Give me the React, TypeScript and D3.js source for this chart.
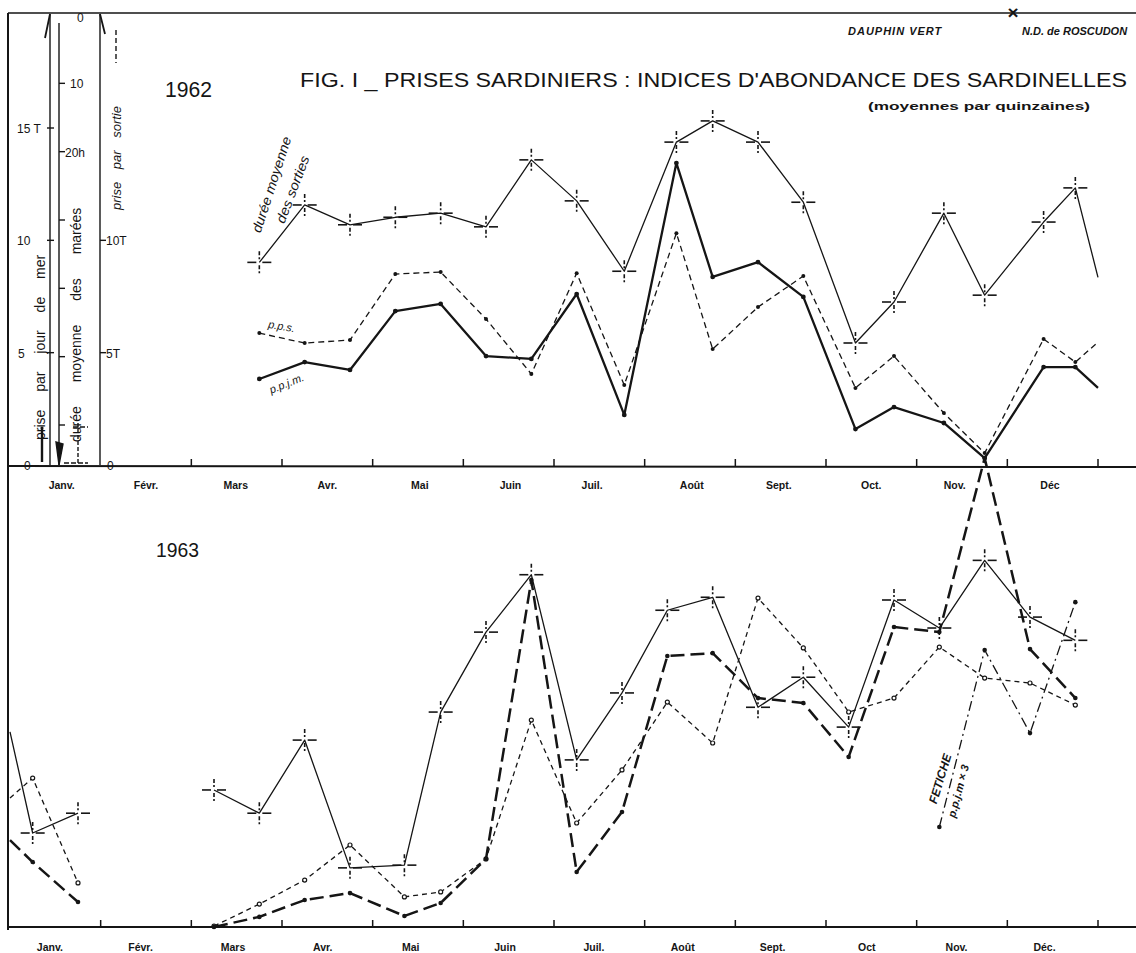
import React from "react";
import * as d3 from "d3";

// ---------- DATA ----------
const monthNames62 = ["Janv.", "Févr.", "Mars", "Avr.", "Mai", "Juin", "Juil.", "Août", "Sept.", "Oct.", "Nov.", "Déc"];
const monthNames63 = ["Janv.", "Févr.", "Mars", "Avr.", "Mai", "Juin", "Juil.", "Août", "Sept.", "Oct", "Nov.", "Déc."];
// label centre positions in months from 1 January (hand lettered)
const labelMonth62 = [0.57, 1.5, 2.49, 3.5, 4.52, 5.52, 6.42, 7.52, 8.48, 9.5, 10.42, 11.47];
const labelMonth63 = [0.44, 1.44, 2.46, 3.45, 4.42, 5.46, 6.44, 7.42, 8.41, 9.45, 10.44, 11.41];

// 1962 — x = index of the fortnight (0 = 1st half of January)
const q62 = [5, 6, 7, 8, 9, 10, 11, 12, 13.05, 14.2, 15, 16, 17, 18.15, 19, 20.1, 21, 22.3, 23, 23.5];
const duree62 = [36.2, 27.8, 30.7, 29.6, 29.0, 31.0, 21.2, 27.2, 37.5, 18.6, 15.5, 18.6, 27.4, 48.0, 42.0, 29.0, 41.0, 30.3, 25.3, 38.4];
const ppjm62 = [3.83, 4.58, 4.23, 6.85, 7.17, 4.85, 4.72, 7.61, 2.23, 13.44, 8.37, 9.03, 7.48, 1.6, 2.58, 1.87, 0.31, 4.36, 4.36, 3.43];
const pps62 = [5.87, 5.43, 5.56, 8.5, 8.59, 6.5, 4.05, 8.54, 3.56, 10.32, 5.16, 7.03, 8.41, 3.43, 4.85, 2.31, 0.53, 5.61, 4.58, 5.47];

// 1963 — January segment
const q63jan = [-0.5, 0, 1];
const duree63jan = [37.3, 52.1, 49.2];
const ppjm63jan = [3.87, 2.89, 1.11];
const pps63jan = [5.74, 6.63, 1.96];

// 1963 — March to December
const q63 = [4, 5, 6, 7, 8.2, 9, 10, 11, 12, 13, 14, 15, 16, 17, 18, 19, 20, 21, 22, 23];
const duree63 = [45.8, 49.2, 38.5, 57.2, 56.8, 34.4, 22.7, 14.3, 41.4, 31.6, 19.5, 17.6, 33.7, 29.3, 36.6, 18.0, 22.1, 12.2, 20.5, 23.9];
const ppjm63 = [0, 0.45, 1.2, 1.51, 0.49, 1.07, 3.03, 15.44, 2.45, 5.12, 12.06, 12.19, 10.19, 9.97, 7.57, 13.35, 13.13, 20.87, 12.37, 10.19];
const pps63 = [0.04, 1.02, 2.09, 3.65, 1.34, 1.56, 3.03, 9.21, 4.63, 6.99, 10.01, 8.19, 14.64, 12.42, 9.57, 10.19, 12.46, 11.08, 10.86, 9.88];

// 1963 — "FETICHE" p.p.j.m × 3
const qFetiche = [20, 21, 22, 23];
const fetiche63 = [4.45, 12.33, 8.63, 14.46];

// left axes
const ppjmTicks = [5, 10, 15];
const ppjmTickLabels = ["5", "10", "15 T"];
const dureeTicks = [10, 20, 30, 40, 50, 60];
const dureeTickLabels = ["10", "20h"];
const ppsTicks = [5, 10];
const ppsTickLabels = ["5T", "10T"];

// ---------- DRAWING ----------
const W = 1136;
const H = 953;
const ink = "#151515";
const F = "'Liberation Sans', Arial, 'DejaVu Sans', sans-serif";

const xM = d3.scaleLinear().domain([0, 12]).range([10, 1098]);
const xQ = (k: number) => xM((k + 0.5) / 2);
const yP62 = d3.scaleLinear().domain([0, 15]).range([465, 128]);
const yD62 = d3.scaleLinear().domain([0, 60]).range([15, 425]);
const yP63 = d3.scaleLinear().domain([0, 15]).range([927, 590]);
const yD63 = d3.scaleLinear().domain([0, 60]).range([477, 887]);

function path(qs: number[], vs: number[], y: (v: number) => number) {
  const pts: [number, number][] = qs.map((q, i) => [xQ(q), y(vs[i])]);
  return d3.line()(pts) || "";
}

function Cross({ x, y }: { x: number; y: number }) {
  return (
    <g transform={`translate(${x},${y})`} stroke={ink} strokeWidth={1.6} fill="none">
      <line x1={-12} y1={0} x2={-3} y2={0} />
      <line x1={3} y1={0} x2={12} y2={0} />
      <line x1={0} y1={-11} x2={0} y2={-3} strokeDasharray="4,2" />
      <line x1={0} y1={3} x2={0} y2={11} strokeDasharray="4,2" />
    </g>
  );
}

type SerProps = {
  qs: number[];
  vs: number[];
  y: (v: number) => number;
  dash?: string;
  width: number;
  marker: "cross" | "dot" | "ring" | "none";
  r?: number;
};

function Series({ qs, vs, y, dash, width, marker, r = 2.3 }: SerProps) {
  return (
    <g>
      <path d={path(qs, vs, y)} fill="none" stroke={ink} strokeWidth={width} strokeDasharray={dash} strokeLinejoin="round" />
      {qs.map((q, i) => {
        if (q < 0 || q > 23.2) return null;
        const cx = xQ(q);
        const cy = y(vs[i]);
        if (marker === "cross") return <Cross key={i} x={cx} y={cy} />;
        if (marker === "dot") return <circle key={i} cx={cx} cy={cy} r={r} fill={ink} />;
        if (marker === "ring") return <circle key={i} cx={cx} cy={cy} r={r} fill="#fff" stroke={ink} strokeWidth={1.2} />;
        return null;
      })}
    </g>
  );
}

export default function App() {
  const months = d3.range(12);
  return (
    <div style={{ position: "absolute", left: 0, top: 0 }}>
      <svg width={W} height={H} viewBox={`0 0 ${W} ${H}`} style={{ display: "block", background: "#fff" }} fontFamily={F}>
        <rect x={0} y={0} width={W} height={H} fill="#fff" />

        {/* frame */}
        <line x1={8} y1={13} x2={W} y2={13} stroke={ink} strokeWidth={1.5} />
        <line x1={8} y1={13} x2={8} y2={930} stroke={ink} strokeWidth={2} />
        <line x1={8} y1={466} x2={W} y2={467} stroke={ink} strokeWidth={2} />
        <line x1={8} y1={927} x2={W} y2={927} stroke={ink} strokeWidth={2} />

        {/* top right labels */}
        <text x={1013} y={19} fontSize={19} fontWeight="bold" textAnchor="middle" fill={ink}>×</text>
        <text x={848} y={35} fontSize={11} fontStyle="italic" fontWeight="bold" letterSpacing={1} fill={ink}>DAUPHIN VERT</text>
        <text x={1022} y={35} fontSize={11} fontStyle="italic" fontWeight="bold" fill={ink}>N.D. de ROSCUDON</text>

        {/* title */}
        <text x={300} y={87} fontSize={19.5} fill={ink} textLength={827} lengthAdjust="spacingAndGlyphs">
          FIG. I _ PRISES  SARDINIERS : INDICES D'ABONDANCE  DES  SARDINELLES
        </text>
        <text x={868} y={110} fontSize={11} fontWeight="bold" fill={ink} textLength={222} lengthAdjust="spacingAndGlyphs">
          (moyennes  par  quinzaines)
        </text>
        <text x={165} y={97} fontSize={22} fill={ink} textLength={47} lengthAdjust="spacingAndGlyphs">1962</text>
        <text x={156} y={557} fontSize={21} fill={ink} textLength={43} lengthAdjust="spacingAndGlyphs">1963</text>

        {/* month ticks and labels */}
        {d3.range(2, 13).map((m) => (
          <line key={"t62" + m} x1={xM(m)} y1={466} x2={xM(m)} y2={459} stroke={ink} strokeWidth={1.5} />
        ))}
        {d3.range(1, 13).map((m) => (
          <line key={"t63" + m} x1={xM(m)} y1={927} x2={xM(m)} y2={920} stroke={ink} strokeWidth={1.5} />
        ))}
        {months.map((m) => (
          <text key={"l62" + m} x={xM(labelMonth62[m])} y={489} fontSize={10.5} fontWeight="bold" textAnchor="middle" fill={ink}>
            {monthNames62[m]}
          </text>
        ))}
        {months.map((m) => (
          <text key={"l63" + m} x={xM(labelMonth63[m])} y={951} fontSize={10.5} fontWeight="bold" textAnchor="middle" fill={ink}>
            {monthNames63[m]}
          </text>
        ))}

        {/* left axes (1962) */}
        <g stroke={ink} strokeWidth={1.4} fill="none">
          <line x1={50} y1={465} x2={50} y2={14} />
          <line x1={50} y1={14} x2={45} y2={38} strokeWidth={1.8} />
          <line x1={59} y1={23} x2={59} y2={465} />
          <path d="M59,465 L56,442 L63,444 Z" fill={ink} />
          <line x1={100} y1={465} x2={100} y2={14} />
          <line x1={100} y1={14} x2={105} y2={34} strokeWidth={1.8} />
          {ppjmTicks.map((t) => (
            <line key={"a1" + t} x1={47} y1={yP62(t)} x2={54} y2={yP62(t)} />
          ))}
          {dureeTicks.map((t) => (
            <line key={"a2" + t} x1={59} y1={yD62(t)} x2={65} y2={yD62(t)} />
          ))}
          {ppsTicks.map((t) => (
            <line key={"a3" + t} x1={100} y1={yP62(t)} x2={106} y2={yP62(t)} />
          ))}
        </g>
        <g fontSize={12} fill={ink}>
          {ppjmTicks.map((t, i) => (
            <text key={"l1" + t} x={t === 5 ? 18 : 17} y={yP62(t) + 5}>{ppjmTickLabels[i]}</text>
          ))}
          <text x={24} y={470}>0</text>
          <text x={77} y={22}>0</text>
          {dureeTickLabels.map((s, i) => (
            <text key={"l2" + s} x={i === 0 ? 70 : 65} y={yD62(dureeTicks[i]) + 5}>{s}</text>
          ))}
          {ppsTicks.map((t, i) => (
            <text key={"l3" + t} x={106} y={yP62(t) + 5}>{ppsTickLabels[i]}</text>
          ))}
          <text x={107} y={470}>0</text>
        </g>
        {/* axis titles */}
        <g fontSize={14} fill={ink}>
          <text transform="translate(45,440) rotate(-90)" wordSpacing={14}>prise par jour de mer</text>
          <text transform="translate(81,442) rotate(-90)" wordSpacing={20}>durée moyenne des marées</text>
          <text transform="translate(121,210) rotate(-90)" wordSpacing={9} fontSize={13} fontStyle="italic">prise par sortie</text>
        </g>
        {/* legend marks on axes */}
        <line x1={42} y1={429} x2={42} y2={462} stroke={ink} strokeWidth={2.4} />
        <circle cx={42} cy={428} r={1.6} fill={ink} />
        <g stroke={ink} strokeWidth={1.4}>
          <line x1={78} y1={423} x2={78} y2={463} strokeDasharray="4,2" />
          <line x1={73} y1={427} x2={88} y2={427} strokeDasharray="5,2" />
          <line x1={64} y1={463} x2={88} y2={463} strokeDasharray="5,2" />
          <line x1={116} y1={30} x2={116} y2={63} strokeDasharray="5,3" />
        </g>

        {/* 1962 series */}
        <Series qs={q62} vs={duree62} y={yD62} width={1.3} marker="cross" />
        <Series qs={q62} vs={pps62} y={yP62} width={1.3} dash="6,4" marker="dot" r={2} />
        <Series qs={q62} vs={ppjm62} y={yP62} width={2.3} marker="dot" r={2.4} />

        {/* 1962 labels */}
        <g fontStyle="italic" fill={ink} fontSize={13.5}>
          <text transform="translate(276,186) rotate(-72)" textAnchor="middle" textLength={100} lengthAdjust="spacingAndGlyphs">durée moyenne</text>
          <text transform="translate(297,191) rotate(-69)" textAnchor="middle" textLength={71} lengthAdjust="spacingAndGlyphs">des sorties</text>
          <text transform="translate(281,330) rotate(10)" textAnchor="middle" fontSize={11}>p.p.s.</text>
          <text transform="translate(288,387) rotate(-22)" textAnchor="middle" fontSize={11}>p.p.j.m.</text>
        </g>

        {/* 1963 series */}
        <Series qs={q63jan} vs={duree63jan} y={yD63} width={1.3} marker="cross" />
        <Series qs={q63jan} vs={pps63jan} y={yP63} width={1.3} dash="5,4" marker="ring" r={2} />
        <Series qs={q63jan} vs={ppjm63jan} y={yP63} width={2.5} dash="14,6" marker="dot" r={2.3} />

        <Series qs={q63} vs={duree63} y={yD63} width={1.3} marker="cross" />
        <Series qs={q63} vs={pps63} y={yP63} width={1.3} dash="5,4" marker="ring" r={2} />
        <Series qs={q63} vs={ppjm63} y={yP63} width={2.5} dash="14,6" marker="dot" r={2.3} />
        <Series qs={qFetiche} vs={fetiche63} y={yP63} width={1.3} dash="10,4,2,4" marker="dot" r={2.3} />

        {/* FETICHE label */}
        <g fill={ink} fontStyle="italic" fontWeight="bold">
          <text transform="translate(944,780) rotate(-73)" textAnchor="middle" fontSize={12}>FETICHE</text>
          <text transform="translate(962,792) rotate(-75)" textAnchor="middle" fontSize={11}>p.p.j.m × 3</text>
        </g>
      </svg>
    </div>
  );
}
